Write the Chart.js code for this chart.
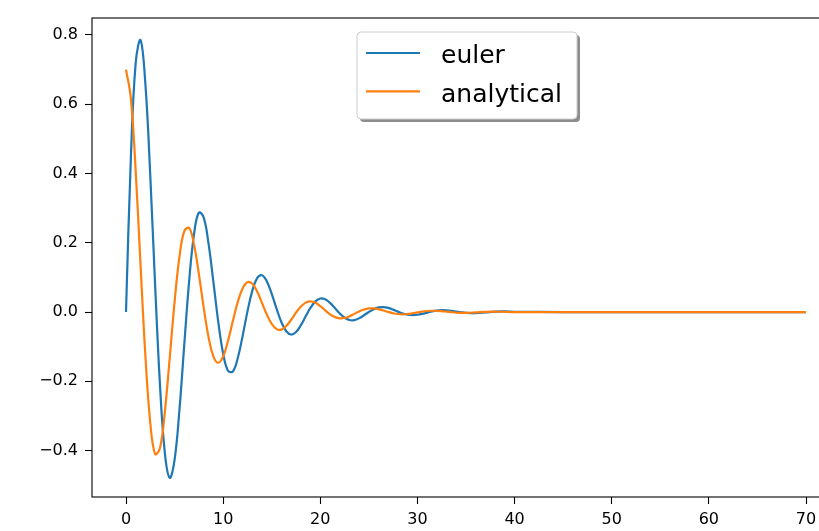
<!DOCTYPE html>
<html>
<head>
<meta charset="utf-8">
<script src="https://cdn.jsdelivr.net/npm/chart.js@4/dist/chart.umd.min.js"></script>
<style>
  html, body { margin: 0; padding: 0; background: #fff; overflow: hidden; }
  #caixa { width: 860px; height: 531px; }
</style>
</head>
<body>
<div id="caixa"><canvas id="grafico"></canvas></div>
<script>
// Dados
const tempos = [
  0, 0.5, 1, 1.5, 2, 2.5, 3, 3.5, 4, 4.5,
  5, 5.5, 6, 6.5, 7, 7.5, 8, 8.5, 9, 9.5,
  10, 10.5, 11, 11.5, 12, 12.5, 13, 13.5, 14, 14.5,
  15, 15.5, 16, 16.5, 17, 17.5, 18, 18.5, 19, 19.5,
  20, 20.5, 21, 21.5, 22, 22.5, 23, 23.5, 24, 24.5,
  25, 25.5, 26, 26.5, 27, 27.5, 28, 28.5, 29, 29.5,
  30, 30.5, 31, 31.5, 32, 32.5, 33, 33.5, 34, 34.5,
  35, 36, 37, 38, 39, 40, 45, 50, 55, 60, 65, 70
];

const euler = [
  0, 0.4450, 0.7198, 0.7850, 0.6566, 0.3931, 0.0763, -0.2116, -0.4072, -0.4785,
  -0.4268, -0.2828, -0.0937, 0.0894, 0.2245, 0.2870, 0.2728, 0.1968, 0.0859, -0.0288,
  -0.1198, -0.1692, -0.1716, -0.1334, -0.0696, 0.0012, 0.0612, 0.0979, 0.1064, 0.0885,
  0.0526, 0.0096, -0.0293, -0.0555, -0.0649, -0.0576, -0.0379, -0.0122, 0.0125, 0.0307,
  0.0390, 0.0368, 0.0264, 0.0114, -0.0042, -0.0164, -0.0230, -0.0232, -0.0180, -0.0092,
  0.0003, 0.0084, 0.0133, 0.0144, 0.0119, 0.0070, 0.0012, -0.0041, -0.0076, -0.0088,
  -0.0077, -0.0051, -0.0016, 0.0018, 0.0042, 0.0053, 0.0050, 0.0036, 0.0015, -0.0006,
  -0.0022, -0.0031, -0.0012, 0.0012, 0.0019, 0.0009, 0, 0, 0, 0, 0, 0
];

const analitico = [
  0.7000, 0.6176, 0.4063, 0.1341, -0.1276, -0.3200, -0.4101, -0.3924, -0.2875, -0.1329,
  0.0289, 0.1593, 0.2335, 0.2428, 0.1950, 0.1100, 0.0126, -0.0729, -0.1284, -0.1464,
  -0.1279, -0.0830, -0.0259, 0.0285, 0.0681, 0.0860, 0.0816, 0.0591, 0.0264, -0.0072,
  -0.0341, -0.0492, -0.0507, -0.0402, -0.0223, -0.0019, 0.0158, 0.0272, 0.0306, 0.0266,
  0.0170, 0.0050, -0.0063, -0.0144, -0.0180, -0.0169, -0.0122, -0.0053, 0.0018, 0.0073,
  0.0104, 0.0106, 0.0083, 0.0045, 0.0002, -0.0034, -0.0057, -0.0065, -0.0055, -0.0035,
  -0.0009, 0.0014, 0.0031, 0.0038, 0.0035, 0.0025, 0.0011, -0.0004, -0.0016, -0.0022,
  -0.0022, -0.0009, 0.0007, 0.0013, 0.0007, -0.0003, 0, 0, 0, 0, 0, 0
];

const ticksX = [0, 10, 20, 30, 40, 50, 60, 70];
const ticksY = [-0.4, -0.2, 0, 0.2, 0.4, 0.6, 0.8];
const nomes = ["euler", "analytical"];
const cores = ["#1f77b4", "#ff7f0e"];

Chart.defaults.font.family = "'DejaVu Sans', sans-serif";
Chart.defaults.font.size = 16;
Chart.defaults.color = "#000";

// Moldura do eixo (estilo matplotlib)
const moldura = {
  id: "moldura",
  afterDatasetsDraw(chart) {
    const { ctx, chartArea: a } = chart;
    ctx.save();
    ctx.strokeStyle = "#000";
    ctx.lineWidth = 1.1;
    ctx.strokeRect(a.left, a.top, a.right - a.left, a.bottom - a.top);
    ctx.restore();
  }
};

// Legenda com sombra
const legenda = {
  id: "legenda",
  afterDraw(chart) {
    const ctx = chart.ctx;
    const x = 357, y = 32, w = 220, h = 87;
    ctx.save();
    ctx.fillStyle = "rgba(0,0,0,0.45)";
    ctx.beginPath();
    ctx.roundRect(x + 3, y + 3, w, h, 4);
    ctx.fill();
    ctx.fillStyle = "#fff";
    ctx.strokeStyle = "#cccccc";
    ctx.lineWidth = 1;
    ctx.beginPath();
    ctx.roundRect(x, y, w, h, 4);
    ctx.fill();
    ctx.stroke();

    ctx.font = "25px 'DejaVu Sans', sans-serif";
    ctx.textBaseline = "alphabetic";
    ctx.textAlign = "left";
    chart.data.datasets.forEach((ds, i) => {
      const linhaY = 53 + i * 38.4;
      ctx.strokeStyle = ds.borderColor;
      ctx.lineWidth = 2.2;
      ctx.beginPath();
      ctx.moveTo(366, linhaY);
      ctx.lineTo(420, linhaY);
      ctx.stroke();
      ctx.fillStyle = "#000";
      ctx.fillText(ds.label, 441, 63.3 + i * 38.4);
    });
    ctx.restore();
  }
};

new Chart(document.getElementById("grafico"), {
  type: "line",
  data: {
    datasets: [
      {
        label: nomes[0],
        data: tempos.map((t, i) => ({ x: t, y: euler[i] })),
        borderColor: cores[0],
        borderWidth: 2.2,
        pointRadius: 0,
        tension: 0.4,
        fill: false,
        order: 1
      },
      {
        label: nomes[1],
        data: tempos.map((t, i) => ({ x: t, y: analitico[i] })),
        borderColor: cores[1],
        borderWidth: 2.2,
        pointRadius: 0,
        tension: 0.4,
        fill: false,
        order: 0
      }
    ]
  },
  options: {
    responsive: true,
    maintainAspectRatio: false,
    animation: false,
    devicePixelRatio: 1,
    layout: { padding: { top: 18, right: 20, left: 0, bottom: 0 } },
    plugins: {
      legend: { display: false },
      tooltip: { enabled: false }
    },
    scales: {
      x: {
        type: "linear",
        min: -3.5,
        max: 73.5,
        afterBuildTicks: (s) => { s.ticks = ticksX.map(v => ({ value: v })); },
        afterFit: (s) => { s.height = 34; },
        border: { display: false },
        grid: { drawOnChartArea: false, tickLength: 7, tickColor: "#000", tickWidth: 1.1 },
        ticks: { padding: 6, maxRotation: 0, callback: (v) => String(v) }
      },
      y: {
        type: "linear",
        min: -0.534,
        max: 0.849,
        afterBuildTicks: (s) => { s.ticks = ticksY.map(v => ({ value: v })); },
        afterFit: (s) => { s.width = 92; },
        border: { display: false },
        grid: { drawOnChartArea: false, tickLength: 7, tickColor: "#000", tickWidth: 1.1 },
        ticks: { padding: 7, callback: (v) => v.toFixed(1).replace("-", "\u2212") }
      }
    }
  },
  plugins: [moldura, legenda]
});
</script>
</body>
</html>
